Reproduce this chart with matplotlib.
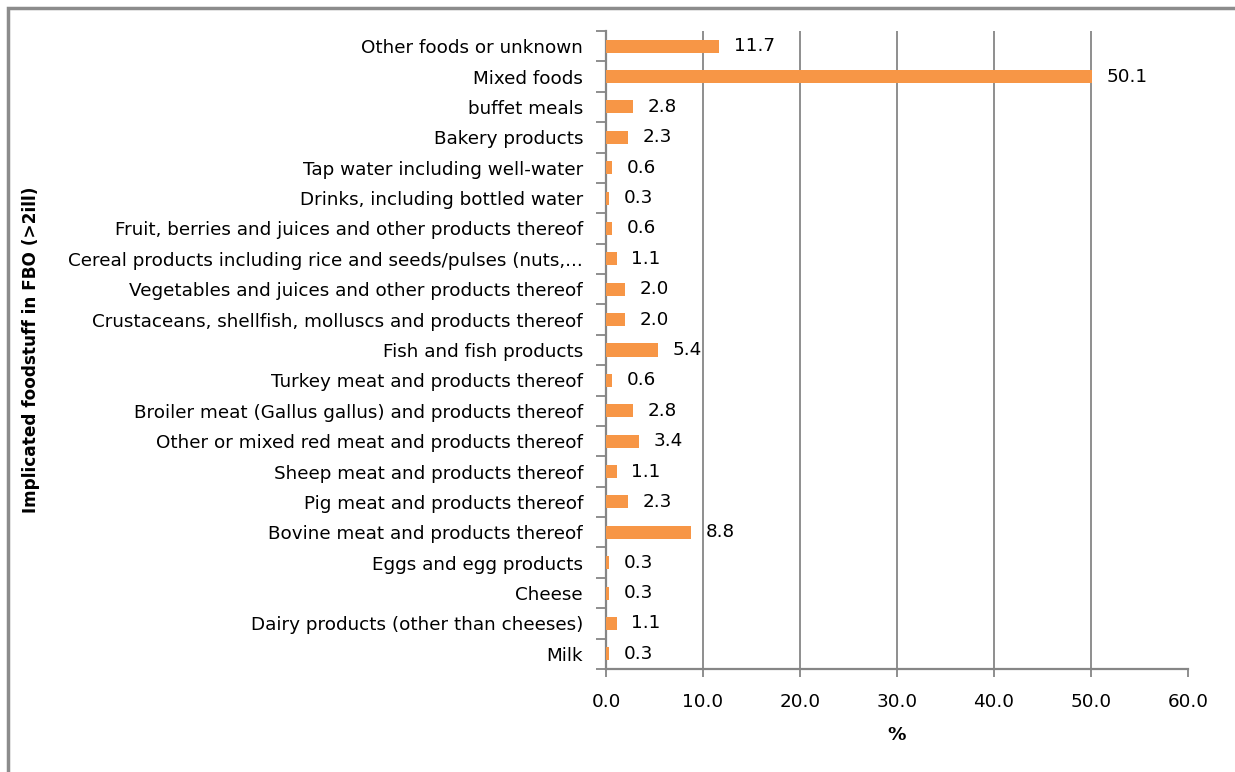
import matplotlib
matplotlib.use("Agg")
import matplotlib.pyplot as plt
import numpy as np
from matplotlib.patches import Rectangle

plt.rcParams["font.family"] = ["DejaVu Sans"]

# top-to-bottom order as in the reference
CATEGORIES = [
    "Other foods or unknown",
    "Mixed foods",
    "buffet meals",
    "Bakery products",
    "Tap water including well-water",
    "Drinks, including bottled water",
    "Fruit, berries and juices and other products thereof",
    "Cereal products including rice and seeds/pulses (nuts,...",
    "Vegetables and juices and other products thereof",
    "Crustaceans, shellfish, molluscs and products thereof",
    "Fish and fish products",
    "Turkey meat and products thereof",
    "Broiler meat (Gallus gallus) and products thereof",
    "Other or mixed red meat and products thereof",
    "Sheep meat and products thereof",
    "Pig meat and products thereof",
    "Bovine meat and products thereof",
    "Eggs and egg products",
    "Cheese",
    "Dairy products (other than cheeses)",
    "Milk",
]
PERCENT = [11.7, 50.1, 2.8, 2.3, 0.6, 0.3, 0.6, 1.1, 2.0, 2.0, 5.4,
           0.6, 2.8, 3.4, 1.1, 2.3, 8.8, 0.3, 0.3, 1.1, 0.3]
X_TICKS = [0, 10, 20, 30, 40, 50, 60]

BAR_COLOR = "#F79646"
GRID_COLOR = "#868686"
FS = 13.25

W, H = 1235, 772
fig = plt.figure(figsize=(W / 100, H / 100), dpi=100)
ax = fig.add_axes([606 / W, 1 - 669 / H, (1188 - 606) / W, (669 - 31) / H])

n = len(CATEGORIES)
y = np.arange(n)[::-1]
ax.barh(y, PERCENT, height=0.43, color=BAR_COLOR, zorder=3)

for yi, v in zip(y, PERCENT):
    ax.text(v + 1.5, yi, f"{v:.1f}", va="center", ha="left", fontsize=FS,
            color="#000000", zorder=4)

ax.set_xlim(0, 60)
ax.set_ylim(-0.5, n - 0.5)
ax.set_xticks(X_TICKS)
ax.set_xticklabels([f"{t:.1f}" for t in X_TICKS], fontsize=FS)
ax.set_yticks(y)
ax.set_yticklabels(CATEGORIES, fontsize=FS)
ax.set_yticks(np.arange(-0.5, n, 1.0), minor=True)
ax.tick_params(axis="y", which="major", length=0, pad=16.5)
ax.tick_params(axis="y", which="minor", length=7, color=GRID_COLOR, width=1.3)
ax.tick_params(axis="x", which="major", length=6, color=GRID_COLOR, width=1.3, pad=11)

for t in X_TICKS[1:-1]:
    ax.axvline(t, color=GRID_COLOR, linewidth=1.3, zorder=1)

for side in ("top", "right"):
    ax.spines[side].set_visible(False)
for side in ("left", "bottom"):
    ax.spines[side].set_color(GRID_COLOR)
    ax.spines[side].set_linewidth(1.6)

ax.set_xlabel("%", fontsize=FS, fontweight="bold", labelpad=11)
fig.text(31 / W, 1 - 350 / H, "Implicated foodstuff in FBO (>2ill)", rotation=90,
         ha="center", va="center", fontsize=12.2, fontweight="bold")

# outer chart border
fig.patches.append(Rectangle((8 / W, -0.1), 1.2, 1 - 8 / H + 0.1, transform=fig.transFigure,
                             fill=False, edgecolor="#8C8C8C", linewidth=2.5))

fig.savefig("out.png", dpi=100)
